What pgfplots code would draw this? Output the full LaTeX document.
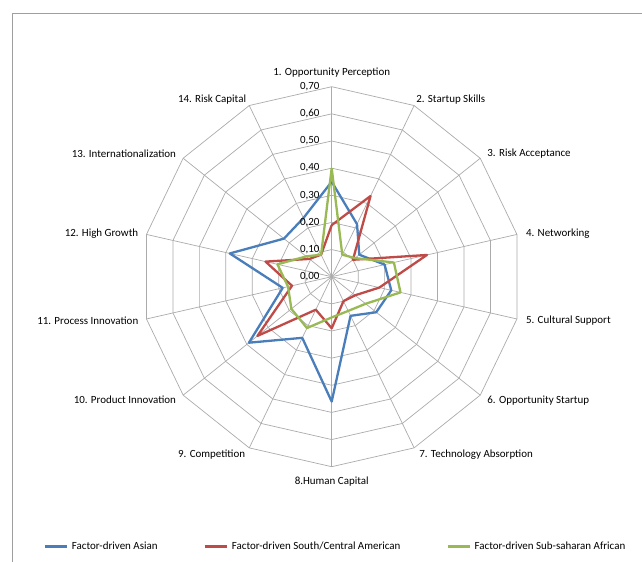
\documentclass[border=0pt]{standalone}
\usepackage{pgfplots}
\pgfplotsset{compat=1.18}
\usepgfplotslibrary{polar}
\usepackage{pgfplotstable}
\usepackage{fontspec}
\setmainfont{Carlito}
\definecolor{cblue}{HTML}{4A7EBB}
\definecolor{cred}{HTML}{BE4B48}
\definecolor{cgreen}{HTML}{98B954}
\definecolor{gridc}{HTML}{ABABAB}
\tikzset{lab/.style={inner sep=0pt}}

\pgfplotstableread{
k  asian  south  african
1  0.35   0.19   0.40
2  0.215  0.33   0.09
3  0.13   0.10   0.11
4  0.20   0.36   0.235
5  0.225  0.18   0.26
6  0.21   0.11   0.16
7  0.16   0.10   0.14
8  0.46   0.19   0.15
9  0.25   0.135  0.21
10 0.39   0.35   0.19
11 0.185  0.15   0.165
12 0.385  0.25   0.205
13 0.225  0.105  0.12
14 0.24   0.09   0.09
15 0.35   0.19   0.40
}\data

\begin{document}
\begin{tikzpicture}[x=1bp,y=1bp]
\begin{polaraxis}[
  at={(0,0)}, anchor=center,
  scale only axis, width=380bp, height=380bp,
  ymin=0, ymax=0.7,
  hide axis, clip=false,
  font=\fontsize{11}{13}\selectfont,
  legend columns=3,
  legend style={at={(0.51,-0.21)}, anchor=center, draw=none, fill=none,
    font=\fontsize{11}{13}\selectfont,
    /tikz/every odd column/.append style={column sep=2bp},
    /tikz/every even column/.append style={column sep=44bp}},
  legend image code/.code={\draw[#1] (0bp,0bp) -- (22bp,0bp);},
]
\pgfplotsinvokeforeach{0.1,0.2,0.3,0.4,0.5,0.6,0.7}{
  \addplot[gridc, line width=0.7bp, forget plot] table[x expr={90-(\thisrow{k}-1)*360/14}, y expr=#1] {\data};
}
\pgfplotsinvokeforeach{90,64.2857,38.5714,12.8571,-12.8571,-38.5714,-64.2857,-90,-115.7143,-141.4286,-167.1429,167.1429,141.4286,115.7143}{
  \addplot[gridc, line width=0.7bp, forget plot] coordinates {(#1,0) (#1,0.7)};
}
\addplot[cblue, line width=2.3bp, line join=round] table[x expr={90-(\thisrow{k}-1)*360/14}, y=asian] {\data};
\addlegendentry{Factor-driven Asian}
\addplot[cred, line width=2.3bp, line join=round] table[x expr={90-(\thisrow{k}-1)*360/14}, y=south] {\data};
\addlegendentry{Factor-driven South/Central American}
\addplot[cgreen, line width=2.3bp, line join=round] table[x expr={90-(\thisrow{k}-1)*360/14}, y=african] {\data};
\addlegendentry{Factor-driven Sub-saharan African}

\node[lab, anchor=center, yshift=14.5bp] at (axis cs:90,0.7) {1. Opportunity Perception};
\node[lab, anchor=west, xshift=2bp, yshift=6bp] at (axis cs:64.2857,0.7) {2. Startup Skills};
\node[lab, anchor=west, xshift=7bp, yshift=5bp] at (axis cs:38.5714,0.7) {3. Risk Acceptance};
\node[lab, anchor=west, xshift=9bp, yshift=1bp] at (axis cs:12.8571,0.7) {4. Networking};
\node[lab, anchor=west, xshift=9bp, yshift=-2bp] at (axis cs:-12.8571,0.7) {5. Cultural Support};
\node[lab, anchor=west, xshift=7bp, yshift=-5bp] at (axis cs:-38.5714,0.7) {6. Opportunity Startup};
\node[lab, anchor=west, xshift=5bp, yshift=-7bp] at (axis cs:-64.2857,0.7) {7. Technology Absorption};
\node[lab, anchor=center, yshift=-15bp] at (axis cs:-90,0.7) {8.Human Capital};
\node[lab, anchor=east, xshift=-4bp, yshift=-7bp] at (axis cs:-115.7143,0.7) {9. Competition};
\node[lab, anchor=east, xshift=-7bp, yshift=-5bp] at (axis cs:-141.4286,0.7) {10. Product Innovation};
\node[lab, anchor=east, xshift=-8bp, yshift=-2bp] at (axis cs:-167.1429,0.7) {11. Process Innovation};
\node[lab, anchor=east, xshift=-8bp, yshift=1bp] at (axis cs:167.1429,0.7) {12. High Growth};
\node[lab, anchor=east, xshift=-7bp, yshift=5bp] at (axis cs:141.4286,0.7) {13. Internationalization};
\node[lab, anchor=east, xshift=-3bp, yshift=6bp] at (axis cs:115.7143,0.7) {14. Risk Capital};

\node[lab, anchor=east, xshift=-12bp] at (axis cs:90,0.0) {0,00};
\node[lab, anchor=east, xshift=-12bp] at (axis cs:90,0.1) {0,10};
\node[lab, anchor=east, xshift=-12bp] at (axis cs:90,0.2) {0,20};
\node[lab, anchor=east, xshift=-12bp] at (axis cs:90,0.3) {0,30};
\node[lab, anchor=east, xshift=-12bp] at (axis cs:90,0.4) {0,40};
\node[lab, anchor=east, xshift=-12bp] at (axis cs:90,0.5) {0,50};
\node[lab, anchor=east, xshift=-12bp] at (axis cs:90,0.6) {0,60};
\node[lab, anchor=east, xshift=-12bp] at (axis cs:90,0.7) {0,70};
\end{polaraxis}
\draw[gray!75, line width=0.8bp] (-319.7,-300) |- (320,263.7);
\pgfresetboundingbox
\useasboundingbox (-331.7,-285.3) rectangle (310.3,276.7);
\end{tikzpicture}
\end{document}
